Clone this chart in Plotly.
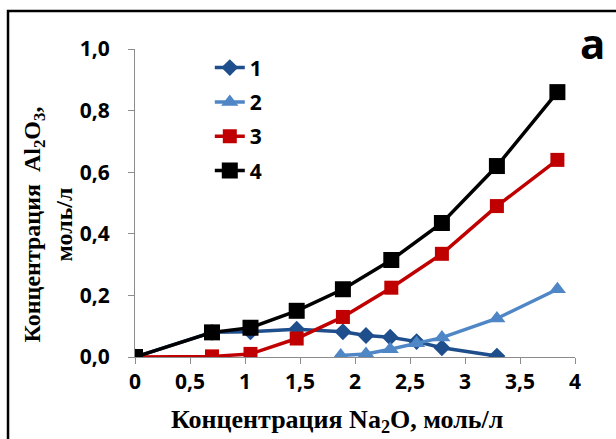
import plotly.graph_objects as go

# Data
x1 = [0, 0.7, 1.05, 1.47, 1.89, 2.1, 2.32, 2.56, 2.79, 3.29]
y1 = [0.0, 0.08, 0.082, 0.09, 0.082, 0.07, 0.064, 0.05, 0.03, 0.003]

x2 = [1.87, 2.1, 2.32, 2.56, 2.79, 3.29, 3.84]
y2 = [0.005, 0.01, 0.025, 0.045, 0.063, 0.125, 0.22]

x3 = [0, 0.7, 1.05, 1.47, 1.89, 2.33, 2.79, 3.29, 3.84]
y3 = [0.0, 0.002, 0.01, 0.06, 0.13, 0.225, 0.335, 0.49, 0.64]

x4 = [0, 0.7, 1.05, 1.47, 1.89, 2.33, 2.79, 3.29, 3.84]
y4 = [0.0, 0.08, 0.095, 0.15, 0.22, 0.315, 0.435, 0.62, 0.86]

names = ["1", "2", "3", "4"]
xtick_vals = [0, 0.5, 1, 1.5, 2, 2.5, 3, 3.5, 4]
xtick_text = ["0", "0,5", "1", "1,5", "2", "2,5", "3", "3,5", "4"]
ytick_vals = [0, 0.2, 0.4, 0.6, 0.8, 1.0]
ytick_text = ["0,0", "0,2", "0,4", "0,6", "0,8", "1,0"]

x_title = "<b>Концентрация Na<sub>2</sub>O, моль/л</b>"
y_title = "<b>Концентрация  Al<sub>2</sub>O<sub>3</sub>,<br>моль/л</b>"

colors = ["#1F4E8C", "#4F86C6", "#C00000", "#000000"]
symbols = ["diamond", "triangle-up", "square", "square"]
msizes = [13, 15, 14, 16]

fig = go.Figure()
for i, (xs, ys) in enumerate([(x1, y1), (x2, y2), (x3, y3), (x4, y4)]):
    fig.add_trace(go.Scatter(
        x=xs, y=ys, name=names[i], mode="lines+markers",
        line=dict(color=colors[i], width=3.5),
        marker=dict(symbol=symbols[i], size=msizes[i], color=colors[i]),
        legendgroup=names[i],
    ))

tick_font = dict(family="Open Sans", size=21, color="#000000", weight="bold")

fig.update_layout(
    width=616, height=439,
    margin=dict(l=135, r=41, t=49, b=82),
    paper_bgcolor="white", plot_bgcolor="white",
    showlegend=True,
    legend=dict(x=0.17, y=1.005, xanchor="left", yanchor="top",
                font=dict(family="Open Sans", size=21, color="#000000", weight="bold"),
                bgcolor="rgba(0,0,0,0)", tracegroupgap=4),
    xaxis=dict(range=[0, 4], tickvals=xtick_vals, ticktext=xtick_text,
               showgrid=False, zeroline=False, showline=True, automargin=False,
               linecolor="#8c8c8c", linewidth=1, ticks="outside",
               tickcolor="#8c8c8c", ticklen=6, tickfont=tick_font),
    yaxis=dict(range=[0, 1.0], tickvals=ytick_vals, ticktext=ytick_text,
               showgrid=False, zeroline=False, showline=True, automargin=False,
               linecolor="#8c8c8c", linewidth=1, ticks="outside",
               tickcolor="#8c8c8c", ticklen=6, tickfont=tick_font,
               ticklabelstandoff=14),
)

# Axis titles
fig.add_annotation(text=x_title, xref="paper", yref="paper",
                   x=0.46, y=-0.208, xanchor="center", yanchor="middle",
                   showarrow=False,
                   font=dict(family="Liberation Serif", size=26, color="#000000"))
fig.add_annotation(text=y_title, xref="paper", yref="paper",
                   x=-0.198, y=0.43, xanchor="center", yanchor="middle",
                   textangle=-90, align="center", showarrow=False,
                   font=dict(family="Liberation Serif", size=24, color="#000000"))

# Outer frame (left and top edges visible)
fig.add_shape(type="rect", xref="paper", yref="paper",
              x0=-0.2886, x1=1.3, y0=-0.5, y1=1.123,
              line=dict(color="black", width=2.5), fillcolor="rgba(0,0,0,0)",
              layer="above")

fig.add_annotation(text="<b>a</b>", xref="paper", yref="paper",
                   x=1.04, y=1.02, xanchor="center", yanchor="middle",
                   showarrow=False,
                   font=dict(family="Open Sans", size=42, color="#000000"))

fig.write_html("out.html")
